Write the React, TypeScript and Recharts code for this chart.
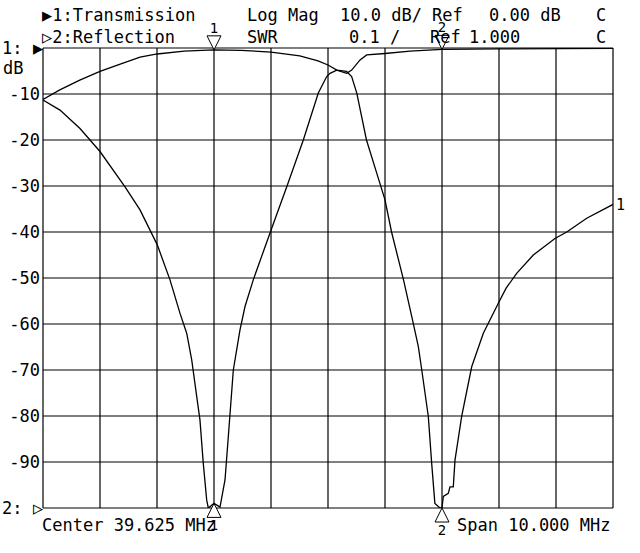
import { CartesianGrid, Line, LineChart, ReferenceDot, XAxis, YAxis } from "recharts"

// frequency axis, MHz (center 39.625, span 10)
const freqTicks = [34.625, 35.625, 36.625, 37.625, 38.625, 39.625, 40.625, 41.625, 42.625, 43.625, 44.625]
const dbTicks = [-100, -90, -80, -70, -60, -50, -40, -30, -20, -10, 0]

// trace 1: transmission, log mag dB
const t1Freq = [
  34.625, 34.92, 35.27, 35.625, 35.98, 36.327, 36.63, 37.1, 37.625, 38.1, 38.625, 39.13, 39.45, 39.625, 39.78,
  39.95, 40.04, 40.13, 40.3, 40.48, 40.625, 40.74, 40.95, 41.12, 41.21, 41.27, 41.385, 41.444, 41.5, 41.59,
  41.625, 41.648, 41.736, 41.765, 41.823, 41.853, 41.97, 42.146, 42.35, 42.613, 42.75, 42.935, 43.227, 43.607,
  43.813, 44.164, 44.625,
]
const t1Db = [
  -11.2, -9.1, -7.0, -5.1, -3.5, -2.0, -1.3, -0.7, -0.4, -0.5, -0.9, -1.7, -2.8, -3.7, -4.8,
  -5.1, -6.2, -9.8, -20, -27.2, -33, -40, -50.4, -59.8, -64.9, -70, -80.1, -90.3, -99, -100,
  -100, -97.5, -96.8, -95.4, -95.4, -89.6, -80.1, -69.3, -62, -55.5, -52.2, -49, -45, -41.4,
  -40, -37, -34,
]

// trace 2: reflection, SWR
const t2Freq = [
  34.625, 34.923, 35.274, 35.625, 36.064, 36.327, 36.63, 36.853, 37.029, 37.146, 37.234, 37.322, 37.379, 37.437,
  37.497, 37.525, 37.625, 37.73, 37.818, 37.876, 37.964, 38.081, 38.169, 38.314, 38.625, 38.9, 39.192, 39.455,
  39.602, 39.66, 39.778, 39.953, 40.041, 40.187, 40.304, 40.625, 41.064, 41.62, 42.643, 44.625,
]
const t2Swr = [
  1.887, 1.865, 1.825, 1.775, 1.698, 1.648, 1.572, 1.496, 1.423, 1.38, 1.322, 1.242, 1.191, 1.097,
  1.017, 1.0, 1.01, 1.002, 1.061, 1.155, 1.3, 1.387, 1.438, 1.496, 1.604, 1.698, 1.8, 1.902,
  1.938, 1.945, 1.952, 1.945, 1.952, 1.974, 1.985, 1.988, 1.993, 1.997, 1.998, 1.999,
]

const markerFreq = [37.625, 41.625]
const t1Markers = [-0.4, -100]
const t2Markers = [1.01, 1.997]

const trace1 = t1Freq.map((f, i) => ({ f, db: t1Db[i] }))
const trace2 = t2Freq.map((f, i) => ({ f, swr: t2Swr[i] }))

const FONT = "'DejaVu Sans Mono', monospace"

function MarkerDown({ cx, cy, n }: { cx: number; cy: number; n: string }) {
  return (
    <g>
      <path d={`M${cx - 7},${cy - 14} L${cx + 7},${cy - 14} L${cx},${cy} Z`} fill="#fff" stroke="#000" strokeWidth={1} />
      <text x={cx} y={cy - 17} textAnchor="middle" fontFamily={FONT} fontSize={14} fill="#000">{n}</text>
    </g>
  )
}

function MarkerUp({ cx, cy, n }: { cx: number; cy: number; n: string }) {
  return (
    <g>
      <path d={`M${cx},${cy} L${cx - 7},${cy + 14} L${cx + 7},${cy + 14} Z`} fill="#fff" stroke="#000" strokeWidth={1} />
      <text x={cx} y={cy + 27} textAnchor="middle" fontFamily={FONT} fontSize={14} fill="#000">{n}</text>
    </g>
  )
}

export default function App() {
  const txt = { fontFamily: FONT, fontSize: 17, fill: "#000" }
  return (
    <div style={{ position: "absolute", left: 0, top: 0, width: 640, height: 553, background: "#fff" }}>
      <LineChart width={640} height={553} margin={{ top: 48, right: 27, bottom: 45, left: 0 }}>
        <CartesianGrid xAxisId="f" yAxisId="db" stroke="#000" strokeWidth={1.2} />
        <XAxis type="number" dataKey="f" xAxisId="f" domain={[34.625, 44.625]} ticks={freqTicks} allowDataOverflow hide />
        <YAxis
          yAxisId="db"
          type="number"
          domain={[-100, 0]}
          ticks={dbTicks}
          width={43}
          axisLine={false}
          tickLine={false}
          tickSize={0}
          tickMargin={3}
          allowDataOverflow
          tick={{ fontFamily: FONT, fontSize: 17, fill: "#000" }}
          tickFormatter={(v) => (v === 0 || v === -100 ? "" : String(v))}
        />
        <YAxis yAxisId="swr" orientation="right" type="number" domain={[1, 2]} allowDataOverflow hide />
        <Line
          data={trace1}
          xAxisId="f"
          yAxisId="db"
          dataKey="db"
          type="linear"
          stroke="#000"
          strokeWidth={1.3}
          dot={false}
          isAnimationActive={false}
        />
        <Line
          data={trace2}
          xAxisId="f"
          yAxisId="swr"
          dataKey="swr"
          type="linear"
          stroke="#000"
          strokeWidth={1.3}
          dot={false}
          isAnimationActive={false}
        />
        <ReferenceDot
          xAxisId="f"
          yAxisId="db"
          x={markerFreq[0]}
          y={t1Markers[0]}
          ifOverflow="visible"
          shape={(p: any) => <MarkerDown cx={p.cx} cy={p.cy} n="1" />}
        />
        <ReferenceDot
          xAxisId="f"
          yAxisId="db"
          x={markerFreq[1]}
          y={t1Markers[1]}
          ifOverflow="visible"
          shape={(p: any) => <MarkerUp cx={p.cx} cy={p.cy} n="2" />}
        />
        <ReferenceDot
          xAxisId="f"
          yAxisId="swr"
          x={markerFreq[0]}
          y={t2Markers[0]}
          ifOverflow="visible"
          shape={(p: any) => <MarkerUp cx={p.cx} cy={p.cy} n="1" />}
        />
        <ReferenceDot
          xAxisId="f"
          yAxisId="swr"
          x={markerFreq[1]}
          y={t2Markers[1]}
          ifOverflow="visible"
          shape={(p: any) => <MarkerDown cx={p.cx} cy={p.cy} n="2" />}
        />
        <ReferenceDot
          xAxisId="f"
          yAxisId="db"
          x={t1Freq[t1Freq.length - 1]}
          y={t1Db[t1Db.length - 1]}
          ifOverflow="visible"
          shape={(p: any) => (
            <text x={p.cx + 3} y={p.cy + 6} fontFamily={FONT} fontSize={15} fill="#000">1</text>
          )}
        />
      </LineChart>
      <svg width={640} height={553} style={{ position: "absolute", left: 0, top: 0, pointerEvents: "none" }}>
        <text x={42} y={21} {...txt}>▶1:Transmission</text>
        <text x={247} y={21} {...txt}>Log Mag</text>
        <text x={340} y={21} {...txt}>10.0 dB/</text>
        <text x={432} y={21} {...txt}>Ref</text>
        <text x={489} y={21} {...txt}>0.00 dB</text>
        <text x={596} y={21} {...txt}>C</text>
        <text x={42} y={43} {...txt}>▷2:Reflection</text>
        <text x={247} y={43} {...txt}>SWR</text>
        <text x={349} y={43} {...txt}>0.1 /</text>
        <text x={430} y={43} {...txt}>Ref</text>
        <text x={469} y={43} {...txt}>1.000</text>
        <text x={596} y={43} {...txt}>C</text>
        <text x={2} y={54} {...txt}>1:</text>
        <text x={33} y={54} {...txt}>▶</text>
        <text x={3} y={74} {...txt}>dB</text>
        <text x={2} y={514} {...txt}>2:</text>
        <text x={33} y={514} {...txt}>▷</text>
        <text x={42} y={531} {...txt}>Center 39.625 MHz</text>
        <text x={457} y={531} {...txt}>Span 10.000 MHz</text>
      </svg>
    </div>
  )
}
